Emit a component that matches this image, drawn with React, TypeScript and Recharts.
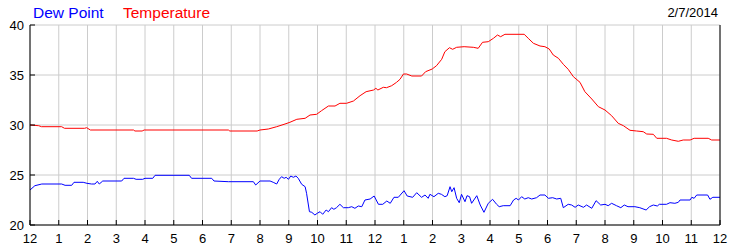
import { CartesianGrid, Line, LineChart, XAxis, YAxis } from "recharts";

// Hours since midnight and readings (°F).
const tempHours = [
  0, 0.3, 0.4, 1.1, 1.2, 1.9, 1.97, 2.1, 3.6, 3.65, 3.9, 3.97, 6.9, 6.95, 7.9, 8.0, 8.29, 8.58, 8.87,
  9.04, 9.28, 9.57, 9.74, 9.97, 10.14, 10.38, 10.61, 10.78, 11.01, 11.25, 11.48, 11.69, 11.95, 12.03,
  12.1, 12.29, 12.4, 12.58, 12.75, 12.87, 12.99, 13.1, 13.28, 13.62, 13.76, 13.99, 14.14, 14.32, 14.43,
  14.59, 14.7, 14.84, 15.1, 15.42, 15.59, 15.74, 15.94, 16.12, 16.26, 16.37, 16.52, 17.19, 17.33, 17.51,
  17.74, 17.91, 18.06, 18.2, 18.38, 18.55, 18.72, 18.9, 19.13, 19.3, 19.54, 19.77, 20.0, 20.23, 20.46,
  20.64, 20.87, 21.1, 21.33, 21.45, 21.68, 21.8, 22.14, 22.32, 22.55, 22.72, 22.96, 23.1, 23.59, 23.71, 24,
];
const tempValues = [
  30.0, 29.93, 29.83, 29.83, 29.67, 29.67, 29.73, 29.5, 29.5, 29.4, 29.4, 29.5, 29.5, 29.4, 29.4, 29.5,
  29.6, 29.83, 30.1, 30.27, 30.57, 30.67, 31.0, 31.07, 31.43, 31.9, 31.9, 32.17, 32.17, 32.4, 32.93,
  33.33, 33.5, 33.67, 33.5, 33.77, 33.73, 33.93, 34.27, 34.57, 35.1, 35.1, 34.9, 34.9, 35.33, 35.6,
  35.93, 36.57, 37.33, 37.73, 37.57, 37.77, 37.83, 37.77, 37.67, 38.27, 38.33, 38.67, 39.0, 38.83, 39.07,
  39.07, 38.67, 38.17, 37.9, 37.83, 37.6, 37.0, 36.67, 36.07, 35.57, 34.83, 34.27, 33.33, 32.6, 31.83,
  31.5, 30.93, 30.17, 29.93, 29.47, 29.4, 29.33, 29.1, 29.07, 28.67, 28.67, 28.5, 28.37, 28.5, 28.5,
  28.67, 28.67, 28.5, 28.5,
];

const dewHours = [
  0, 0.17, 0.41, 1.1, 1.22, 1.45, 1.53, 1.85, 1.98, 2.14, 2.26, 2.34, 2.41, 2.53, 3.19, 3.27, 3.6, 3.69,
  3.92, 4.0, 4.27, 4.35, 5.54, 5.62, 6.32, 6.4, 6.9, 7.77, 7.85, 8.0, 8.35, 8.46, 8.58, 8.67, 8.75, 8.84,
  8.91, 8.99, 9.07, 9.16, 9.25, 9.33, 9.45, 9.57, 9.62, 9.72, 9.8, 9.91, 9.99, 10.09, 10.18, 10.3, 10.38,
  10.49, 10.57, 10.66, 10.78, 10.9, 11.07, 11.19, 11.3, 11.42, 11.54, 11.65, 11.83, 11.97, 12.12, 12.27,
  12.41, 12.53, 12.66, 12.81, 13.01, 13.12, 13.31, 13.45, 13.62, 13.74, 13.85, 13.91, 14.05, 14.2, 14.31,
  14.43, 14.51, 14.61, 14.67, 14.75, 14.84, 14.93, 15.01, 15.13, 15.2, 15.29, 15.36, 15.54, 15.66, 15.79,
  15.94, 16.09, 16.23, 16.32, 16.46, 16.7, 16.82, 16.91, 16.99, 17.1, 17.21, 17.33, 17.45, 17.62, 17.74,
  17.91, 18.03, 18.18, 18.32, 18.46, 18.55, 18.72, 18.84, 18.96, 19.07, 19.25, 19.36, 19.54, 19.69, 19.85,
  20.0, 20.11, 20.23, 20.4, 20.55, 20.67, 20.8, 21.04, 21.21, 21.43, 21.55, 21.68, 21.82, 21.89, 22.14,
  22.26, 22.43, 22.55, 22.61, 22.96, 23.02, 23.1, 23.19, 23.57, 23.65, 23.75, 24,
];
const dewValues = [
  23.5, 23.93, 24.1, 24.1, 23.97, 23.97, 24.27, 24.27, 24.17, 24.1, 24.1, 24.37, 24.1, 24.4, 24.4, 24.67,
  24.67, 24.57, 24.57, 24.67, 24.67, 24.97, 24.97, 24.67, 24.67, 24.4, 24.33, 24.33, 24.0, 24.4, 24.4,
  24.27, 24.1, 24.57, 24.83, 24.67, 24.77, 24.57, 24.9, 24.77, 24.9, 24.67, 24.07, 23.83, 23.17, 21.33,
  21.27, 21.0, 21.17, 21.33, 21.07, 21.5, 21.33, 21.73, 21.57, 21.73, 22.07, 21.73, 21.73, 21.83, 21.67,
  21.9, 21.83, 22.5, 22.6, 22.9, 22.07, 22.07, 22.4, 22.17, 22.77, 22.77, 23.43, 22.9, 22.77, 23.23,
  22.77, 23.0, 22.67, 23.07, 22.83, 23.17, 23.07, 22.83, 22.93, 23.83, 23.33, 23.73, 22.67, 22.23, 23.07,
  22.33, 22.93, 22.83, 22.17, 22.93, 22.0, 21.27, 22.17, 22.57, 22.07, 21.83, 21.93, 21.93, 22.5, 22.67,
  22.5, 22.83, 22.6, 22.73, 22.6, 22.73, 23.0, 23.0, 22.67, 22.73, 22.6, 22.67, 21.73, 22.07, 22.0, 21.77,
  22.0, 21.77, 22.0, 21.67, 22.43, 22.0, 22.07, 21.93, 22.17, 21.93, 21.73, 22.0, 21.83, 21.83, 21.73,
  21.5, 21.83, 22.0, 21.9, 22.07, 22.07, 22.23, 22.17, 22.27, 22.5, 22.5, 22.77, 22.67, 23.0, 23.0, 22.57,
  22.77, 22.77,
];

const hourTicks = [0, 1, 2, 3, 4, 5, 6, 7, 8, 9, 10, 11, 12, 13, 14, 15, 16, 17, 18, 19, 20, 21, 22, 23, 24];
const degreeTicks = [20, 25, 30, 35, 40];
const dateLabel = "2/7/2014";

const FONT = "'Liberation Sans', Arial, sans-serif";

const tempData = tempHours.map((h, i) => ({ h, v: tempValues[i] }));
const dewData = dewHours.map((h, i) => ({ h, v: dewValues[i] }));

const hourLabel = (h: number) => String(h % 12 || 12);

// Tick marks point into the plot, labels sit outside.
function BottomTick({ x, y, payload }: any) {
  return (
    <g>
      <line x1={x} x2={x} y1={y} y2={y - 5} stroke="#000" />
      <text x={x} y={y + 18} textAnchor="middle" fontSize={13} fontFamily={FONT} fill="#000">
        {hourLabel(payload.value)}
      </text>
    </g>
  );
}

function TopTick({ x, y }: any) {
  return <line x1={x} x2={x} y1={y} y2={y + 5} stroke="#000" />;
}

function LeftTick({ x, y, payload }: any) {
  return (
    <g>
      <line x1={x} x2={x + 5} y1={y} y2={y} stroke="#000" />
      <text x={x - 6} y={y + 5} textAnchor="end" fontSize={13} fontFamily={FONT} fill="#000">
        {payload.value}
      </text>
    </g>
  );
}

function RightTick({ x, y, payload }: any) {
  return (
    <g>
      <line x1={x} x2={x - 5} y1={y} y2={y} stroke="#000" />
      <text x={x + 7} y={y + 3} textAnchor="start" fontSize={13} fontFamily={FONT} fill="#000">
        {payload.value}
      </text>
    </g>
  );
}

export default function App() {
  return (
    <div style={{ position: "absolute", left: 0, top: 0, width: 750, height: 250, background: "#fff" }}>
      <LineChart width={750} height={250} margin={{ top: 25, right: 0, bottom: 0, left: 0 }}>
        <CartesianGrid stroke="#cccccc" strokeWidth={1} />
        <XAxis
          dataKey="h"
          type="number"
          domain={[0, 24]}
          ticks={hourTicks}
          interval={0}
          height={25}
          tickSize={0}
          tickMargin={0}
          tickLine={false}
          axisLine={{ stroke: "#000" }}
          tick={<BottomTick />}
          allowDataOverflow
        />
        <XAxis
          xAxisId="top"
          orientation="top"
          dataKey="h"
          type="number"
          domain={[0, 24]}
          ticks={hourTicks}
          interval={0}
          height={0}
          tickSize={0}
          tickMargin={0}
          tickLine={false}
          axisLine={{ stroke: "#000" }}
          tick={<TopTick />}
        />
        <YAxis
          type="number"
          domain={[20, 40]}
          ticks={degreeTicks}
          interval={0}
          width={30}
          tickSize={0}
          tickMargin={0}
          tickLine={false}
          axisLine={{ stroke: "#000" }}
          tick={<LeftTick />}
        />
        <YAxis
          yAxisId="r"
          orientation="right"
          type="number"
          domain={[20, 40]}
          ticks={degreeTicks}
          interval={0}
          width={30}
          tickSize={0}
          tickMargin={0}
          tickLine={false}
          axisLine={{ stroke: "#000" }}
          tick={<RightTick />}
        />
        <Line
          data={tempData}
          dataKey="v"
          type="linear"
          stroke="#ff0000"
          strokeWidth={1}
          dot={false}
          activeDot={false}
          isAnimationActive={false}
          name="Temperature"
        />
        <Line
          data={dewData}
          dataKey="v"
          type="linear"
          stroke="#0000ff"
          strokeWidth={1}
          dot={false}
          activeDot={false}
          isAnimationActive={false}
          name="Dew Point"
        />
      </LineChart>
      <svg
        width={750}
        height={24}
        style={{ position: "absolute", left: 0, top: 0, pointerEvents: "none" }}
      >
        <text x={33} y={18} fontSize={15.5} fontFamily={FONT} fill="#0000ff">
          Dew Point
        </text>
        <text x={123} y={18} fontSize={15.5} fontFamily={FONT} fill="#ff0000">
          Temperature
        </text>
        <text x={718} y={17} textAnchor="end" fontSize={13} fontFamily={FONT} fill="#000">
          {dateLabel}
        </text>
      </svg>
    </div>
  );
}
